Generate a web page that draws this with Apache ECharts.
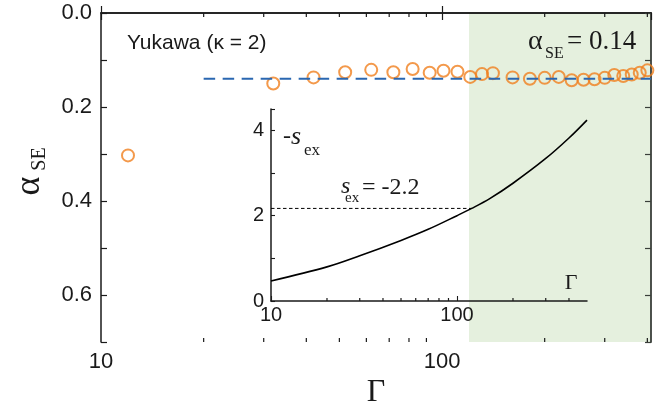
<!DOCTYPE html>
<html>
<head>
    <meta charset='utf-8'/>
    <title>Yukawa alpha_SE</title>
    <style>
        body { margin: 0; padding: 0; background: #fff; }
        #chart { width: 664px; height: 411px; }
    </style>
    <script src="https://cdn.jsdelivr.net/npm/echarts@6/dist/echarts.min.js"></script>
</head>
<body>
<div id='chart'></div>
<script type="text/javascript">
    // main panel: alpha_SE vs Gamma
    var gammaMain = [12, 32, 42, 52, 62, 72, 82, 92, 101, 111, 121, 131, 141, 161, 181, 200,
        220, 240, 260, 280, 300, 320, 340, 360, 380, 400];
    var alphaMain = [0.303, 0.150, 0.137, 0.126, 0.121, 0.126, 0.119, 0.127, 0.123, 0.125, 0.136, 0.130,
        0.128, 0.137, 0.140, 0.138, 0.136, 0.143, 0.142, 0.141, 0.138, 0.132, 0.134, 0.131, 0.127, 0.122];
    var fitGamma = [20, 410];
    var fitAlpha = 0.14;
    var shadeStart = 120;

    // inset: -s_ex vs Gamma
    var gammaInset = [10, 20, 30, 50, 70, 100, 120, 150, 200, 300, 400, 500];
    var sexInset = [0.47, 0.80, 1.06, 1.42, 1.68, 2.00, 2.17, 2.40, 2.76, 3.34, 3.82, 4.24];
    var sexCut = 2.17;

    var mainMinor = [20, 30, 40, 50, 60, 70, 80, 90, 200, 300, 400];
    var insetMinor = [20, 30, 40, 50, 60, 70, 80, 90, 200, 300, 400];

    var ink = '#1a1a1a';
    var sans = '"Liberation Sans", Arial, sans-serif';
    var serif = '"Liberation Serif", "Times New Roman", serif';

    function tickLayer(xi, yi, vals, yv, len, dir) {
        return {
            type: 'custom', xAxisIndex: xi, yAxisIndex: yi, silent: true, clip: false, z: 3,
            data: vals.map(function (v) { return [v, yv]; }),
            renderItem: function (params, api) {
                var c = api.coord([api.value(0), api.value(1)]);
                return {
                    type: 'line',
                    shape: {x1: c[0], y1: c[1], x2: c[0], y2: c[1] + dir * len},
                    style: {stroke: ink, lineWidth: 1.2}
                };
            }
        };
    }

    function txt(x, y, text, font, align, rot) {
        return {
            type: 'text', x: x, y: y, rotation: rot || 0, z: 10,
            style: {
                text: text, font: font, fill: ink,
                align: align || 'left', verticalAlign: 'middle',
                textAlign: align || 'left', textVerticalAlign: 'middle'
            }
        };
    }

    var axLine = {lineStyle: {color: ink, width: 1.5}};

    var chart = echarts.init(document.getElementById('chart'));
    chart.setOption({
        animation: false,
        grid: [
            {left: 101, top: 13, width: 550, height: 329},
            {left: 271, top: 109, width: 316, height: 192}
        ],
        xAxis: [
            {
                gridIndex: 0, type: 'log', min: 10, max: 410, position: 'bottom',
                axisLine: axLine, splitLine: {show: false},
                axisTick: {inside: true, length: 7, lineStyle: {color: ink, width: 1.2}},
                axisLabel: {fontSize: 22, fontFamily: sans, color: ink, margin: 9, showMaxLabel: false}
            },
            {
                gridIndex: 0, type: 'log', min: 10, max: 410, position: 'top',
                axisLine: axLine, splitLine: {show: false},
                axisTick: {inside: true, length: 7, lineStyle: {color: ink, width: 1.2}},
                axisLabel: {show: false}
            },
            {
                gridIndex: 1, type: 'log', min: 10, max: 500,
                axisLine: axLine, splitLine: {show: false},
                axisTick: {inside: true, length: 5, lineStyle: {color: ink, width: 1.1}},
                axisLabel: {fontSize: 20, fontFamily: sans, color: ink, margin: 4, showMaxLabel: false}
            }
        ],
        yAxis: [
            {
                gridIndex: 0, type: 'value', min: 0, max: 0.7, interval: 0.1, inverse: true,
                axisLine: axLine, splitLine: {show: false},
                axisTick: {inside: true, length: 6, lineStyle: {color: ink, width: 1.2}},
                axisLabel: {
                    fontSize: 22, fontFamily: sans, color: ink, margin: 9,
                    formatter: function (v) {
                        var k = Math.round(v * 10);
                        return (k % 2 === 0 && k < 7) ? v.toFixed(1) : '';
                    }
                }
            },
            {
                gridIndex: 0, type: 'value', min: 0, max: 0.7, interval: 0.1, inverse: true, position: 'right',
                axisLine: {lineStyle: {color: '#3a3f3a', width: 1.8}}, splitLine: {show: false},
                axisTick: {inside: true, length: 6, lineStyle: {color: '#3a3f3a', width: 1.2}},
                axisLabel: {show: false}
            },
            {
                gridIndex: 1, type: 'value', min: 0, max: 4.5, interval: 1,
                axisLine: axLine, splitLine: {show: false},
                axisTick: {inside: true, length: 4, lineStyle: {color: ink, width: 1.1}},
                axisLabel: {
                    fontSize: 20, fontFamily: sans, color: ink, margin: 7,
                    formatter: function (v) { return (Math.abs(v % 2) < 1e-9) ? String(v) : ''; }
                }
            }
        ],
        series: [
            {
                // green region, behind the axes
                type: 'custom', xAxisIndex: 0, yAxisIndex: 0, silent: true, z: -1,
                data: [[shadeStart, 0, 410, 0.7]],
                renderItem: function (params, api) {
                    var a = api.coord([api.value(0), api.value(1)]);
                    var b = api.coord([api.value(2), api.value(3)]);
                    return {
                        type: 'rect',
                        shape: {x: a[0], y: a[1], width: b[0] - a[0], height: b[1] - a[1]},
                        style: {fill: '#e5f0de'}
                    };
                }
            },
            {
                type: 'line', xAxisIndex: 0, yAxisIndex: 0, symbol: 'none', silent: true,
                data: fitGamma.map(function (g) { return [g, fitAlpha]; }),
                lineStyle: {color: '#2a67b1', width: 2, type: [11.5, 7.5]}
            },
            {
                type: 'scatter', xAxisIndex: 0, yAxisIndex: 0, symbol: 'circle', symbolSize: 12,
                data: gammaMain.map(function (g, i) { return [g, alphaMain[i]]; }),
                itemStyle: {color: 'rgba(0,0,0,0)', borderColor: '#f07f1e', borderWidth: 2}
            },
            {
                type: 'line', xAxisIndex: 2, yAxisIndex: 2, symbol: 'none', smooth: 0.35, silent: true,
                data: gammaInset.map(function (g, i) { return [g, sexInset[i]]; }),
                lineStyle: {color: '#000', width: 1.6}
            },
            {
                type: 'line', xAxisIndex: 2, yAxisIndex: 2, symbol: 'none', silent: true,
                data: [[10, sexCut], [shadeStart, sexCut]],
                lineStyle: {color: '#000', width: 1, type: [3.5, 2.5]}
            },
            tickLayer(0, 0, mainMinor, 0.7, 4, -1),
            tickLayer(1, 0, mainMinor, 0, 4, 1),
            tickLayer(2, 2, insetMinor, 0, 3, -1)
        ],
        graphic: [
            txt(127, 43, 'Yukawa (κ = 2)', '21px ' + sans),
            txt(528, 42, 'α', '28px ' + serif),
            txt(545, 54, 'SE', '16px ' + serif),
            txt(567, 42, '= 0.14', '27px ' + serif),
            txt(30, 186, 'α', '36px ' + serif, 'center', Math.PI / 2),
            txt(40, 159, 'SE', '20px ' + serif, 'center', Math.PI / 2),
            txt(376, 393, 'Γ', '32px ' + serif, 'center'),
            txt(283, 137, '-', '24px ' + serif),
            txt(291, 137, 's', 'italic 26px ' + serif),
            txt(304, 151, 'ex', '17px ' + serif),
            txt(341, 187, 's', 'italic 24px ' + serif),
            txt(345, 198, 'ex', '15px ' + serif),
            txt(362, 188, '= -2.2', '24px ' + serif),
            txt(571, 283, 'Γ', '22px ' + serif, 'center')
        ]
    });
</script>
</body>
</html>
